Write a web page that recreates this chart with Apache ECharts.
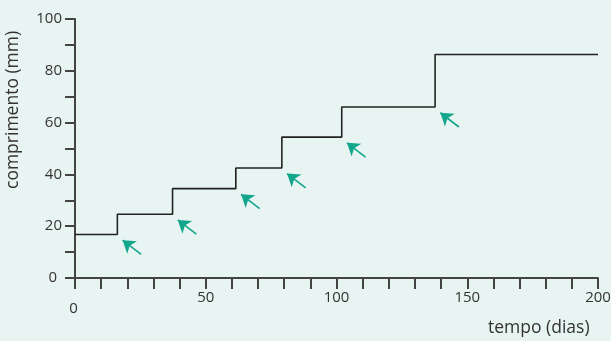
<!DOCTYPE html>
<html>
<head>
<meta charset="utf-8">
<script src="https://cdn.jsdelivr.net/npm/echarts@6/dist/echarts.min.js"></script>
<style>
html,body{margin:0;padding:0;background:#e8f4f2;}
#c{width:611px;height:341px;}
</style>
</head>
<body>
<div id="c"></div>
<script>
// Data
const stepDays = [0, 16.2, 37.3, 61.5, 79.1, 102.0, 137.7, 200];
const lengths = [16.8, 24.6, 34.5, 42.5, 54.4, 66.0, 86.3, 86.3];
const xTickLabels = ['0', '50', '100', '150', '200'];
const yTickLabels = ['0', '20', '40', '60', '80', '100'];
const xName = 'tempo (dias)';
const yName = 'comprimento (mm)';

const FONT = 'Open Sans';
const stepData = stepDays.map((d, i) => [d, lengths[i]]);

// arrows point at each step corner (moult events), offset from the corner
const arrowData = [];
for (let i = 1; i < stepDays.length - 1; i++) {
  const x = stepDays[i], y = lengths[i - 1];
  arrowData.push({ coords: [[x + 9.1, y - 7.7], [x + 2.0, y - 2.2]] });
}

const chart = echarts.init(document.getElementById('c'), null, { renderer: 'canvas' });
chart.setOption({
  backgroundColor: '#e8f4f2',
  animation: false,
  grid: { left: 75, right: 13, top: 19, bottom: 63, outerBoundsMode: 'none', containLabel: false },
  xAxis: {
    type: 'value', min: 0, max: 200, interval: 50,
    axisLine: { show: true, lineStyle: { color: '#444', width: 2 } },
    axisTick: { show: true, length: 11, lineStyle: { color: '#444', width: 2 } },
    minorTick: { show: true, splitNumber: 5, length: 11, lineStyle: { color: '#444', width: 2 } },
    splitLine: { show: false },
    axisLabel: {
      margin: 12, color: '#333', fontFamily: FONT, fontSize: 15,
      formatter: v => v === 0 ? '{z|' + xTickLabels[0] + '}' : xTickLabels[v / 50],
      rich: { z: { fontFamily: FONT, fontSize: 15, color: '#333', padding: [11, 3, 0, 0] } }
    }
  },
  yAxis: {
    type: 'value', min: 0, max: 100, interval: 20,
    axisLine: { show: true, lineStyle: { color: '#444', width: 2 } },
    axisTick: { show: true, length: 10, lineStyle: { color: '#444', width: 2 } },
    minorTick: { show: true, splitNumber: 2, length: 10, lineStyle: { color: '#444', width: 2 } },
    splitLine: { show: false },
    axisLabel: {
      margin: 13, color: '#333', fontFamily: FONT, fontSize: 15,
      formatter: v => v === 0 ? '{z|' + yTickLabels[0] + '}' : yTickLabels[v / 20],
      rich: { z: { fontFamily: FONT, fontSize: 15, color: '#333', padding: [0, 5, 0, 0] } }
    }
  },
  graphic: [
    { type: 'text', left: 488, top: 319, style: { text: xName, fill: '#333', font: '17.5px "' + FONT + '"' } },
    { type: 'text', x: 4, y: 189, rotation: Math.PI / 2,
      style: { text: yName, fill: '#333', font: '17.5px "' + FONT + '"' } }
  ],
  series: [
    {
      type: 'line', step: 'end', data: stepData, showSymbol: false, symbol: 'none',
      lineStyle: { color: '#222', width: 1.6 }, z: 3
    },
    {
      type: 'lines', coordinateSystem: 'cartesian2d', data: arrowData,
      symbol: ['none', 'arrow'], symbolSize: [10, 12],
      lineStyle: { color: '#14a68c', width: 1.6, curveness: 0, opacity: 1 },
      z: 4
    }
  ]
});
</script>
</body>
</html>
